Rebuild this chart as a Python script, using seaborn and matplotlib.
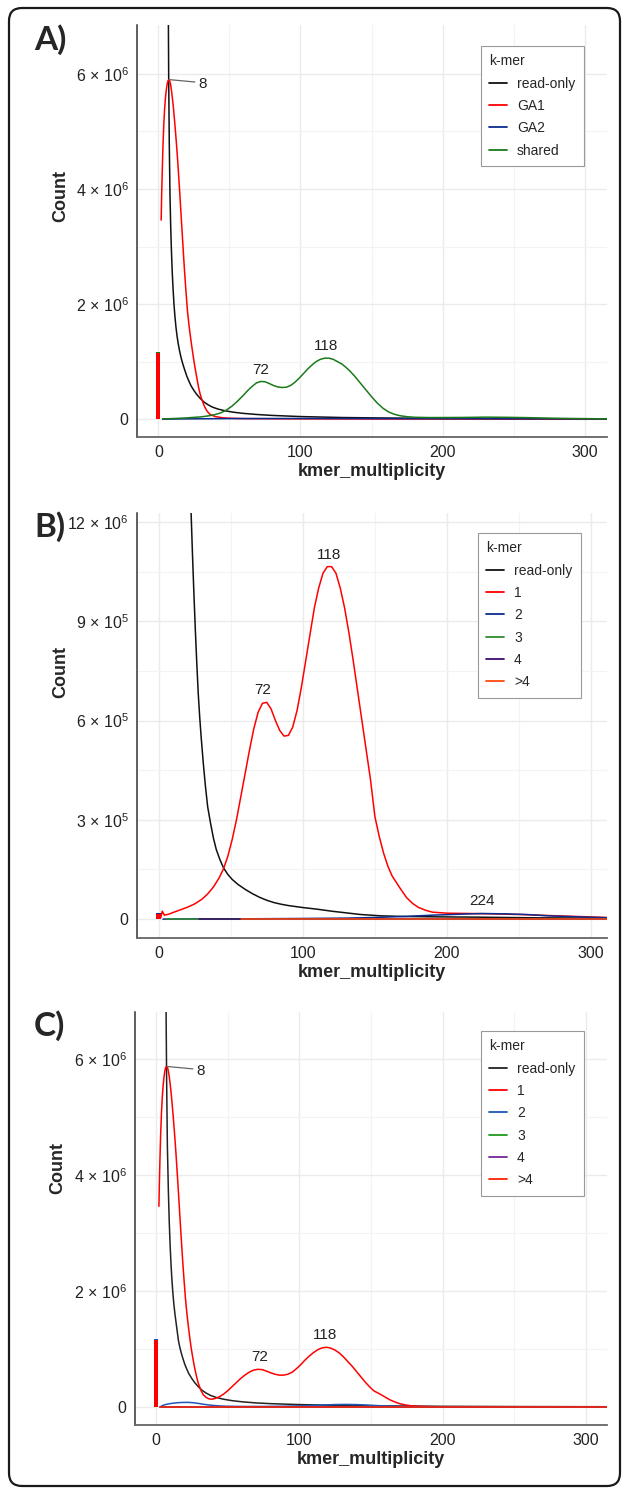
import numpy as np
import pandas as pd
import seaborn as sns
import matplotlib
matplotlib.use("Agg")
import matplotlib.pyplot as plt
from matplotlib.patches import FancyBboxPatch

# ---------------- data (counts in millions) ----------------
# panel A
ro_a_x = [6.6, 7.0, 7.3, 7.7, 8.2, 8.7, 9.2, 9.8, 10.4, 11.0, 11.7, 12.4, 13.2, 14.0, 15.0, 16.0, 17.2, 18.5, 20, 21.5, 23, 25, 27,
          29.5, 32, 35, 38, 42, 47, 53, 60, 70, 80, 100, 130, 160, 200, 250, 316]
ro_a_y = [9.0, 7.2, 5.9, 4.8, 3.9, 3.35, 2.94, 2.55, 2.25, 2.0, 1.78, 1.6, 1.44, 1.31, 1.18, 1.07, 0.96, 0.86, 0.75, 0.66, 0.58,
          0.5, 0.43, 0.36, 0.3, 0.25, 0.21, 0.175, 0.145, 0.12, 0.1, 0.08, 0.065, 0.045, 0.028, 0.02, 0.013, 0.008, 0.005]
ga1_a_x = [2, 2.3, 2.7, 3.2, 3.8, 4.4, 5.0, 5.6, 6.2, 6.8, 7.4, 8.0, 8.6, 9.2, 9.8, 10.5, 11.2, 12.0, 12.8, 13.6, 14.4, 15.2,
           16.0, 16.8, 17.6, 18.5, 19.5, 20.5, 21.5, 22.5, 23.5, 24.5, 25.5, 26.5, 27.5, 28.5, 29.5, 30.5, 31.5, 32.5, 34, 36,
           38, 40, 45, 50, 60, 80, 100, 150, 200, 316]
ga1_a_y = [3.46, 3.85, 4.25, 4.7, 5.1, 5.38, 5.58, 5.72, 5.82, 5.88, 5.9, 5.88, 5.82, 5.72, 5.6, 5.44, 5.25, 5.02, 4.77, 4.5,
           4.2, 3.88, 3.55, 3.23, 2.9, 2.55, 2.2, 1.88, 1.65, 1.45, 1.27, 1.1, 0.94, 0.8, 0.66, 0.53, 0.43, 0.35, 0.28, 0.22,
           0.15, 0.09, 0.065, 0.045, 0.025, 0.016, 0.01, 0.007, 0.005, 0.003, 0.002, 0.001]
ga2_a_x = [3, 20, 50, 100, 150, 200, 250, 316]
ga2_a_y = [0.0, 0.005, 0.01, 0.012, 0.01, 0.008, 0.006, 0.004]
shared_a_x = [3, 10, 20, 30, 36, 40, 44, 48, 52, 56, 60, 63, 66, 69, 72, 75, 78, 81, 84, 87, 90, 93, 96, 99, 102, 105, 108,
              111, 114, 117, 120, 123, 126, 129, 132, 135, 138, 141, 144, 147, 150, 154, 158, 162, 166, 170, 175, 180, 190,
              200, 215, 230, 245, 260, 275, 290, 305, 316]
shared_a_y = [0.005, 0.01, 0.022, 0.04, 0.06, 0.08, 0.11, 0.16, 0.23, 0.32, 0.42, 0.5, 0.57, 0.63, 0.655, 0.65, 0.62, 0.585,
              0.56, 0.55, 0.555, 0.585, 0.64, 0.71, 0.79, 0.87, 0.94, 1.0, 1.04, 1.06, 1.06, 1.04, 1.0, 0.96, 0.9, 0.83, 0.75,
              0.66, 0.57, 0.48, 0.39, 0.28, 0.19, 0.125, 0.085, 0.06, 0.042, 0.033, 0.028, 0.028, 0.03, 0.035, 0.032, 0.026,
              0.018, 0.012, 0.008, 0.005]
zero_a = {"shared": 1.17, "GA1": 1.15}

# panel B
ro_b_x = [20.5, 21.5, 22.5, 23.5, 24.5, 25.5, 26.5, 27.5, 28.5, 29.5, 31, 32.5, 34, 36, 38, 40, 42.5, 45, 48, 51, 55, 60, 65,
          70, 75, 80, 85, 90, 100, 110, 120, 130, 140, 154, 170, 190, 220, 260, 311]
ro_b_y = [1.5, 1.36, 1.23, 1.1, 0.98, 0.87, 0.77, 0.68, 0.61, 0.55, 0.47, 0.4, 0.34, 0.29, 0.245, 0.21, 0.18, 0.155, 0.135,
          0.12, 0.105, 0.09, 0.077, 0.066, 0.057, 0.05, 0.045, 0.041, 0.035, 0.03, 0.024, 0.019, 0.014, 0.01, 0.008, 0.007,
          0.006, 0.004, 0.003]
one_b_x = [1.5, 2.5, 4, 7, 10, 15, 20, 25, 30, 34, 38, 42, 45, 48, 51, 54, 57, 60, 63, 66, 69, 72, 75, 78, 81, 84, 87, 90, 93,
           96, 99, 102, 105, 108, 111, 114, 117, 120, 123, 126, 129, 132, 135, 138, 141, 144, 147, 150, 153, 156, 159, 162,
           165, 168, 172, 176, 180, 185, 190, 200, 215, 230, 250, 270, 290, 311]
one_b_y = [0.005, 0.024, 0.012, 0.015, 0.02, 0.028, 0.036, 0.046, 0.06, 0.076, 0.097, 0.125, 0.152, 0.19, 0.24, 0.3, 0.37,
           0.44, 0.51, 0.575, 0.625, 0.652, 0.655, 0.635, 0.6, 0.57, 0.553, 0.555, 0.58, 0.63, 0.7, 0.78, 0.86, 0.94, 1.0,
           1.045, 1.065, 1.065, 1.045, 1.0, 0.94, 0.865, 0.78, 0.69, 0.6, 0.51, 0.42, 0.31, 0.25, 0.2, 0.16, 0.13, 0.11,
           0.09, 0.065, 0.048, 0.036, 0.027, 0.021, 0.018, 0.017, 0.016, 0.014, 0.011, 0.008, 0.005]
two_b_x = [3, 30, 60, 100, 130, 150, 170, 190, 210, 224, 240, 255, 270, 290, 311]
two_b_y = [0.0, 0.001, 0.001, 0.002, 0.003, 0.005, 0.008, 0.012, 0.015, 0.017, 0.016, 0.014, 0.01, 0.007, 0.004]
three_b_x = [5, 50, 100, 200, 311]
three_b_y = [0.001, 0.001, 0.001, 0.001, 0.001]
four_b_x = [28, 100, 200, 311]
four_b_y = [0.0012, 0.0012, 0.0012, 0.0012]
gt4_b_x = [57, 100, 200, 311]
gt4_b_y = [0.0015, 0.0015, 0.0015, 0.0015]
zero_b = {"2": 0.019, "1": 0.017}

# panel C
ro_c_x = [6.6, 7.0, 7.4, 7.9, 8.6, 9.2, 9.8, 10.4, 11.0, 11.7, 12.4, 13.2, 14.0, 14.8, 15.6, 16.5, 17.5, 18.7, 20, 21.5, 23,
          25, 27, 29.5, 32, 35, 38, 42, 47, 53, 60, 70, 80, 100, 130, 160, 200, 250, 316]
ro_c_y = [9.0, 6.8, 5.6, 4.5, 3.72, 3.2, 2.8, 2.48, 2.22, 1.98, 1.78, 1.6, 1.45, 1.3, 1.15, 1.04, 0.94, 0.84, 0.74, 0.65,
          0.57, 0.49, 0.42, 0.35, 0.29, 0.24, 0.2, 0.165, 0.135, 0.11, 0.09, 0.07, 0.058, 0.042, 0.027, 0.019, 0.012, 0.008,
          0.005]
one_c_x = [2, 2.3, 2.7, 3.2, 3.8, 4.4, 5.0, 5.6, 6.2, 6.8, 7.4, 8.0, 8.6, 9.2, 9.8, 10.5, 11.2, 12.0, 12.8, 13.6, 14.4, 15.2,
           16.0, 16.8, 17.6, 18.5, 19.5, 20.5, 21.5, 22.5, 23.5, 24.5, 25.5, 26.5, 27.5, 28.5, 29.5, 30.5, 31.5, 33, 35, 37,
           39, 41, 44, 47, 50, 53, 56, 59, 62, 65, 68, 71, 74, 77, 80, 83, 86, 89, 92, 95, 98, 101, 104, 107, 110, 113, 116,
           119, 122, 125, 128, 131, 134, 137, 140, 143, 146, 149, 152, 155, 158, 161, 164, 167, 170, 174, 178, 184, 192,
           200, 230, 270, 316]
one_c_y = [3.46, 3.85, 4.25, 4.7, 5.08, 5.36, 5.56, 5.7, 5.8, 5.86, 5.87, 5.85, 5.79, 5.7, 5.58, 5.42, 5.23, 5.0, 4.75, 4.48,
           4.18, 3.87, 3.55, 3.22, 2.9, 2.55, 2.2, 1.88, 1.62, 1.4, 1.2, 1.02, 0.87, 0.73, 0.61, 0.5, 0.41, 0.34, 0.28, 0.21,
           0.165, 0.14, 0.135, 0.145, 0.175, 0.22, 0.28, 0.35, 0.42, 0.49, 0.55, 0.6, 0.635, 0.65, 0.645, 0.62, 0.59, 0.565,
           0.55, 0.55, 0.565, 0.6, 0.66, 0.73, 0.81, 0.88, 0.94, 0.99, 1.02, 1.03, 1.015, 0.98, 0.93, 0.86, 0.78, 0.7, 0.61,
           0.52, 0.43, 0.35, 0.28, 0.24, 0.2, 0.155, 0.115, 0.085, 0.058, 0.036, 0.022, 0.012, 0.006, 0.004, 0.002, 0.0015,
           0.001]
two_c_x = [3, 4, 5.5, 7, 9, 11, 13, 15, 17, 19, 21, 23, 25, 27, 29, 31, 33, 36, 40, 45, 50, 60, 75, 90, 100, 110, 118, 125,
           132, 140, 148, 155, 162, 170, 180, 200, 250, 316]
two_c_y = [0.0, 0.02, 0.035, 0.045, 0.055, 0.063, 0.069, 0.074, 0.077, 0.079, 0.08, 0.079, 0.076, 0.071, 0.064, 0.056, 0.048,
           0.038, 0.027, 0.018, 0.013, 0.01, 0.01, 0.014, 0.02, 0.028, 0.036, 0.042, 0.045, 0.042, 0.033, 0.024, 0.016, 0.01,
           0.006, 0.003, 0.002, 0.001]
three_c_x = [3, 100, 200, 316]
three_c_y = [0.001, 0.001, 0.001, 0.001]
four_c_x = [3, 100, 200, 316]
four_c_y = [0.001, 0.001, 0.001, 0.001]
gt4_c_x = [3, 100, 200, 316]
gt4_c_y = [0.0015, 0.0015, 0.0015, 0.0015]
zero_c = {"2": 1.18, "1": 1.15}

# peak labels: (x, y in millions, text)
peaks_a = [(72, 0.655, "72"), (118, 1.06, "118")]
peaks_b = [(72, 0.655, "72"), (118, 1.065, "118"), (224, 0.017, "224")]
peaks_c = [(72, 0.65, "72"), (118, 1.03, "118")]

order_a = ["read-only", "GA1", "GA2", "shared"]
order_bc = ["read-only", "1", "2", "3", "4", ">4"]
pal_a = {"read-only": "#111111", "GA1": "#FF0000", "GA2": "#0B2C8F", "shared": "#1A7A1A"}
pal_b = {"read-only": "#111111", "1": "#FF0000", "2": "#0B2C8F", "3": "#2E8B2E", "4": "#3D0A6E", ">4": "#FF4A10"}
pal_c = {"read-only": "#222222", "1": "#FF0000", "2": "#1F56B8", "3": "#1F9A1F", "4": "#74279A", ">4": "#FF2200"}

M = 1e6


def make_df(series):
    parts = []
    for name, (xs, ys) in series.items():
        parts.append(pd.DataFrame({"kmer_multiplicity": xs,
                                   "Count": np.array(ys) * M,
                                   "k-mer": name}))
    return pd.concat(parts, ignore_index=True)


df_a = make_df({"read-only": (ro_a_x, ro_a_y), "GA1": (ga1_a_x, ga1_a_y),
                "GA2": (ga2_a_x, ga2_a_y), "shared": (shared_a_x, shared_a_y)})
df_b = make_df({"read-only": (ro_b_x, ro_b_y), "1": (one_b_x, one_b_y), "2": (two_b_x, two_b_y),
                "3": (three_b_x, three_b_y), "4": (four_b_x, four_b_y), ">4": (gt4_b_x, gt4_b_y)})
df_c = make_df({"read-only": (ro_c_x, ro_c_y), "1": (one_c_x, one_c_y), "2": (two_c_x, two_c_y),
                "3": (three_c_x, three_c_y), "4": (four_c_x, four_c_y), ">4": (gt4_c_x, gt4_c_y)})

# ---------------- style ----------------
sns.set_style("white")
plt.rcParams["font.family"] = ["Liberation Sans", "DejaVu Sans"]
plt.rcParams["mathtext.fontset"] = "custom"
plt.rcParams["mathtext.rm"] = "Liberation Sans"
plt.rcParams["mathtext.it"] = "Liberation Sans:italic"
plt.rcParams["mathtext.bf"] = "Liberation Sans:bold"

W, H = 627, 1491
fig = plt.figure(figsize=(W / 100, H / 100), dpi=100)


def px_axes(left, right, top, bottom):
    return fig.add_axes([left / W, 1 - bottom / H, (right - left) / W, (bottom - top) / H])


def sci(v, e):
    return "%s \u00d7 10$^{%d}$" % (v, e)


panels = [
    dict(df=df_a, order=order_a, pal=pal_a, box=(137, 607, 25, 437), xlim=(-15, 315.6),
         ylim=(-0.31 * M, 6.85 * M), yt=[0, 2 * M, 4 * M, 6 * M],
         ytl=["0", sci(2, 6), sci(4, 6), sci(6, 6)], ymin=[1 * M, 3 * M, 5 * M],
         zero=zero_a, zw=3.0, peaks=peaks_a, letter="A)", let_y=50, count_y=0.585,
         leg=(0.732, 0.949)),
    dict(df=df_b, order=order_bc, pal=pal_b, box=(137, 607, 513, 938), xlim=(-15, 311),
         ylim=(-0.057 * M, 1.227 * M), yt=[0, 3e5, 6e5, 9e5, 1.2e6],
         ytl=["0", sci(3, 5), sci(6, 5), sci(9, 5), sci(12, 6)], ymin=[1.5e5, 4.5e5, 7.5e5, 10.5e5],
         zero=zero_b, zw=3.0, peaks=peaks_b, letter="B)", let_y=537, count_y=0.625,
         leg=(0.7255, 0.953)),
    dict(df=df_c, order=order_bc, pal=pal_c, box=(135, 607, 1012, 1425), xlim=(-14.7, 314.8),
         ylim=(-0.31 * M, 6.81 * M), yt=[0, 2 * M, 4 * M, 6 * M],
         ytl=["0", sci(2, 6), sci(4, 6), sci(6, 6)], ymin=[1 * M, 3 * M, 5 * M],
         zero=zero_c, zw=3.0, peaks=peaks_c, letter="C)", let_y=1036, count_y=0.622,
         leg=(0.733, 0.954)),
]

for p in panels:
    ax = px_axes(*p["box"])
    sns.lineplot(data=p["df"], x="kmer_multiplicity", y="Count", hue="k-mer",
                 hue_order=p["order"], palette=p["pal"], estimator=None,
                 linewidth=1.1, ax=ax)

    # stacked spike at multiplicity 0
    for name, h in p["zero"].items():
        ax.bar([0], [h * M], width=p["zw"], color=p["pal"][name], zorder=3, linewidth=0)

    ax.set_xlim(*p["xlim"])
    ax.set_ylim(*p["ylim"])
    ax.set_xticks([0, 100, 200, 300])
    ax.set_xticks([50, 150, 250], minor=True)
    ax.set_yticks(p["yt"])
    ax.set_yticklabels(p["ytl"])
    ax.set_yticks(p["ymin"], minor=True)
    ax.grid(which="major", color="#EBEBEB", linewidth=1.0)
    ax.grid(which="minor", color="#F3F3F3", linewidth=0.8)
    ax.set_axisbelow(True)
    ax.tick_params(which="major", length=3.5, width=1.0, color="#333333",
                   labelsize=11.5, labelcolor="#222222", pad=2.5)
    ax.tick_params(which="minor", length=0)
    for s in ["top", "right"]:
        ax.spines[s].set_visible(False)
    ax.spines["left"].set_color("#333333")
    ax.spines["bottom"].set_color("#666666")
    ax.spines["left"].set_linewidth(1.1)
    ax.spines["bottom"].set_linewidth(1.3)

    ax.set_xlabel("kmer_multiplicity", fontsize=13, fontweight="bold")
    ax.xaxis.set_label_coords(0.5, -0.062)
    ax.set_ylabel("Count", fontsize=13, fontweight="bold")
    ax.yaxis.set_label_coords(-0.145, p["count_y"])

    for x, y, t in p["peaks"]:
        ax.text(x, y * M + 0.012 * (p["ylim"][1] - p["ylim"][0]), t, ha="center",
                va="bottom", fontsize=11, color="#222222")

    leg = ax.legend(title="k-mer", loc="upper left", bbox_to_anchor=p["leg"],
                    fontsize=10, title_fontsize=10, frameon=True, fancybox=False,
                    edgecolor="#999999", facecolor="white", framealpha=1,
                    handlelength=1.25, handletextpad=0.75, labelspacing=0.6,
                    borderpad=0.6, borderaxespad=0, alignment="left")
    leg.get_frame().set_linewidth(0.8)
    for line in leg.get_lines():
        line.set_linewidth(1.3)

    fig.text(34 / W, 1 - p["let_y"] / H, p["letter"], fontsize=24, fontweight="bold",
             family=["Lato", "DejaVu Sans"], va="baseline", ha="left")

# peak-8 label with leader line on panels A and C
for ax, peak in [(fig.axes[0], 5.9), (fig.axes[2], 5.87)]:
    ax.annotate("8", xy=(8, peak * M), xytext=(28, (peak - 0.07) * M), ha="left",
                va="center", fontsize=11, color="#222222",
                arrowprops=dict(arrowstyle="-", color="#666666", lw=0.9,
                                shrinkA=0, shrinkB=0, relpos=(0, 0.6)))

# outer rounded frame
frame = FancyBboxPatch((9 / 100, (H - 1486) / 100), (620 - 9) / 100, (1486 - 8) / 100,
                       boxstyle="round,pad=0,rounding_size=0.13", transform=fig.dpi_scale_trans,
                       fill=False, edgecolor="#1A1A1A", linewidth=1.6)
fig.add_artist(frame)

fig.savefig("out.png", dpi=100)
